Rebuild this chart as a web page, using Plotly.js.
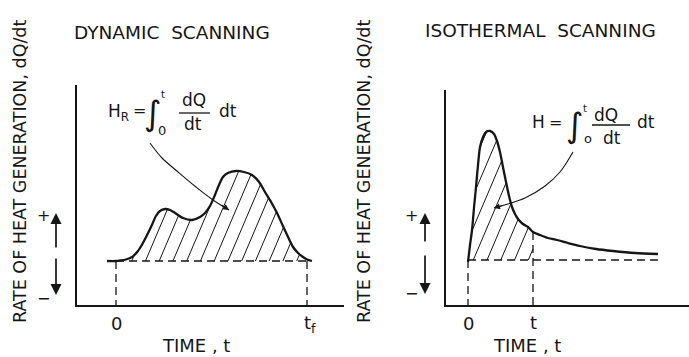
<!DOCTYPE html>
<html><head><meta charset="utf-8">
<script src="https://cdn.plot.ly/plotly-3.0.1.min.js"></script>
<style>body{margin:0;background:#fff}#chart{width:689px;height:357px}</style>
</head><body><div id="chart"></div>
<script>
// ---- Data ----
// Dynamic scanning: time (t_f = 10) and rate of heat generation above baseline
const dynT = [-0.47,0,0.21,0.52,0.84,1.15,1.41,1.68,1.88,2.09,2.30,2.57,2.83,3.09,3.51,3.98,4.40,4.66,4.92,5.18,5.39,5.60,5.86,6.28,6.70,7.12,7.49,7.80,8.12,8.43,8.74,9.01,9.27,9.53,9.79,10.0,10.26];
const dynQ = [0,0,0.05,0.15,0.4,1.0,1.8,2.8,3.6,4.5,5.0,5.2,5.1,4.8,4.3,4.1,4.4,4.8,5.5,6.6,7.6,8.4,8.8,9.0,8.9,8.6,7.9,6.9,5.9,4.8,3.5,2.4,1.4,0.8,0.4,0.15,0];
const dynTf = 10;
// Isothermal scanning: time (t = 1 at the marked time) and rate
const isoT = [0,0.031,0.062,0.092,0.123,0.154,0.185,0.231,0.277,0.338,0.400,0.446,0.492,0.538,0.585,0.631,0.677,0.723,0.769,0.846,0.923,1.0,1.108,1.231,1.369,1.538,1.723,1.969,2.231,2.569,2.923];
const isoQ = [-0.2,1.5,3.0,5.2,7.3,9.5,11.3,12.3,12.8,12.9,12.6,11.9,10.8,9.3,7.8,6.4,5.3,4.6,4.1,3.6,3.3,2.8,2.5,2.2,2.0,1.7,1.4,1.1,0.9,0.7,0.6];
const isoTcut = 1;
// leader lines from the formulas to the hatched areas
const dynLeaderT = [1.78,2.41,3.25,4.19,5.08,5.92];
const dynLeaderQ = [11.8,10.3,8.9,7.4,6.1,5.1];
const isoLeaderT = [1.615,1.415,1.185,0.877,0.615,0.40];
const isoLeaderQ = [10.8,8.8,7.4,6.2,5.6,5.2];
// text
const panelTitles = ['DYNAMIC  SCANNING','ISOTHERMAL  SCANNING'];
const yTitle = 'RATE OF HEAT GENERATION, dQ/dt';
const xTitle = 'TIME , t';

// ---- Layout geometry ----
const W = 689, H = 357;
const ax1 = {dom:[77/W,344/W], range:[-2.042,11.937]};
const ay1 = {dom:[(H-305)/H,(H-85)/H], range:[-4.4,17.6]};
const ax2 = {dom:[446/W,1], range:[-0.3385,3.4]};
const ay2 = {dom:[(H-305)/H,(H-90)/H], range:[-4.5,17.0]};
const INK = '#161616';

function toPx(v,a){return a.dom[0]*W + (v-a.range[0])/(a.range[1]-a.range[0])*(a.dom[1]-a.dom[0])*W;}
function toPy(v,a){return H - (a.dom[0]*H + (v-a.range[0])/(a.range[1]-a.range[0])*(a.dom[1]-a.dom[0])*H);}
function fromPx(p,a){return a.range[0] + (p/W - a.dom[0])/(a.dom[1]-a.dom[0])*(a.range[1]-a.range[0]);}
function fromPy(p,a){return a.range[0] + ((H-p)/H - a.dom[0])/(a.dom[1]-a.dom[0])*(a.range[1]-a.range[0]);}

// hatch lines (slanted /) clipped to polygon, computed in pixel space, returned in data space
function hatch(pt, pq, ax, ay, x0, step, tanA){
  const yb = toPy(0, ay);
  const X = pt.map(v=>toPx(v,ax)), Y = pq.map(v=>toPy(v,ay));
  const U = X.map((x,i)=> x - (yb - Y[i])/tanA);
  const n = X.length;
  const umin = Math.min(...U), umax = Math.max(...U);
  const out = {x:[], y:[]};
  let c = x0 + Math.ceil((umin - x0)/step)*step;
  for(; c <= umax; c += step){
    const ys = [];
    for(let i=0;i<n;i++){
      const j=(i+1)%n;
      const a=U[i]-c, b=U[j]-c;
      if((a<0 && b>=0) || (a>=0 && b<0)){
        const f = (c-U[i])/(U[j]-U[i]);
        ys.push(Y[i] + f*(Y[j]-Y[i]));
      }
    }
    ys.sort((p,q)=>q-p);
    for(let k=0;k+1<ys.length;k+=2){
      const ya=ys[k], yb2=ys[k+1];
      const xa=c+(yb-ya)/tanA, xb=c+(yb-yb2)/tanA;
      out.x.push(fromPx(xa,ax), fromPx(xb,ax), null);
      out.y.push(fromPy(ya,ay), fromPy(yb2,ay), null);
    }
  }
  return out;
}

// polygons
const cutIdx = isoT.indexOf(isoTcut);
const isoPolyT = isoT.slice(0,cutIdx+1).concat([isoTcut, 0]);
const isoPolyQ = isoQ.slice(0,cutIdx+1).concat([0,0]);
const h1 = hatch(dynT, dynQ, ax1, ay1, 131.7, 13.75, 2.35);
const h2 = hatch(isoPolyT, isoPolyQ, ax2, ay2, 473.3, 13.75, 2.35);

const dashStyle = {color: INK, width: 1.3, dash: '8px,5px'};
const traces = [
  // left
  {x:[0,dynTf], y:[0,0], xaxis:'x', yaxis:'y', mode:'lines', line:dashStyle},
  {x:[0,0,null,dynTf,dynTf], y:[0,ay1.range[0],null,0,ay1.range[0]], xaxis:'x', yaxis:'y', mode:'lines', line:dashStyle},
  {x:h1.x, y:h1.y, xaxis:'x', yaxis:'y', mode:'lines', line:{color:INK, width:1}},
  {x:dynT, y:dynQ, xaxis:'x', yaxis:'y', mode:'lines', line:{color:INK, width:2.3, shape:'spline', smoothing:0.8}},
  {x:dynLeaderT, y:dynLeaderQ, xaxis:'x', yaxis:'y', mode:'lines', line:{color:INK, width:1.1, shape:'spline'}},
  // right
  {x:[0,isoT[isoT.length-1]+0.03], y:[0,0], xaxis:'x2', yaxis:'y2', mode:'lines', line:dashStyle},
  {x:[0,0,null,isoTcut,isoTcut], y:[0,ay2.range[0],null,isoQ[cutIdx],ay2.range[0]], xaxis:'x2', yaxis:'y2', mode:'lines', line:dashStyle},
  {x:h2.x, y:h2.y, xaxis:'x2', yaxis:'y2', mode:'lines', line:{color:INK, width:1}},
  {x:isoT, y:isoQ, xaxis:'x2', yaxis:'y2', mode:'lines', line:{color:INK, width:2.3, shape:'spline', smoothing:0.8}},
  {x:isoLeaderT, y:isoLeaderQ, xaxis:'x2', yaxis:'y2', mode:'lines', line:{color:INK, width:1.1, shape:'spline'}}
];

const FONT = 'DejaVu Sans, Liberation Sans, sans-serif';
function A(text, x, y, size, extra){
  return Object.assign({text:text, xref:'paper', yref:'paper', x:x/W, y:1-y/H, showarrow:false,
    xanchor:'center', yanchor:'middle', font:{family:FONT, size:size, color:INK}}, extra||{});
}
function arrowV(x, yHead, len){
  return {xref:'paper', yref:'paper', x:x/W, y:1-yHead/H, ax:0, ay:len, text:'', showarrow:true,
    arrowhead:2, arrowsize:1.3, arrowwidth:1.7, arrowcolor:INK, standoff:0};
}
const nL = dynLeaderT.length, nR = isoLeaderT.length;
const annotations = [
  A(panelTitles[0], 172, 32, 18.5),
  A(panelTitles[1], 540, 30, 18.5),
  A(yTitle, 20, 172, 17.5, {textangle:-90}),
  A(yTitle, 364, 172, 17.5, {textangle:-90}),
  A(xTitle, 196, 345, 18),
  A(xTitle, 527, 345, 18),
  A('0', 116, 323, 18),
  A('t<sub>f</sub>', 310, 324, 18),
  A('0', 468, 323, 18),
  A('t', 533, 322, 18),
  A('+', 43, 215, 16), A('\u2212', 43, 298, 16),
  A('+', 411, 215, 16), A('\u2212', 411, 293, 16),
  arrowV(56, 213, 36), arrowV(56, 295, -38),
  arrowV(425, 213, 30), arrowV(425, 294, -40),
  // left formula
  A('H<sub>R</sub>', 106, 112, 17, {xanchor:'left'}),
  A('=', 139, 110, 16),
  A('\u222B', 153, 113, 34),
  A('t', 163, 95, 10),
  A('0', 162, 130, 13),
  A('dQ', 194, 100, 17),
  A('dt', 193, 124, 17),
  A('dt', 228, 111, 17),
  // right formula
  A('H', 538, 122, 17),
  A('=', 555, 122, 16),
  A('\u222B', 575, 125, 34),
  A('t', 585, 108, 10),
  A('o', 588, 139, 13),
  A('dQ', 606, 115, 17),
  A('dt', 612, 138, 17),
  A('dt', 646, 122, 17),
  // leader arrowheads
  {xref:'x', yref:'y', x:dynLeaderT[nL-1], y:dynLeaderQ[nL-1], ax:-9, ay:-6, text:'', showarrow:true, arrowhead:2, arrowsize:1, arrowwidth:1.2, arrowcolor:INK, standoff:0},
  {xref:'x2', yref:'y2', x:isoLeaderT[nR-1], y:isoLeaderQ[nR-1], ax:10, ay:-3, text:'', showarrow:true, arrowhead:2, arrowsize:1, arrowwidth:1.2, arrowcolor:INK, standoff:0}
];
const shapes = [
  {type:'line', xref:'paper', yref:'paper', x0:179/W, x1:210/W, y0:1-113/H, y1:1-113/H, line:{color:INK, width:1.3}},
  {type:'line', xref:'paper', yref:'paper', x0:592/W, x1:630/W, y0:1-125/H, y1:1-125/H, line:{color:INK, width:1.3}}
];
function axis(a, anchor){
  return {domain:a.dom, range:a.range, anchor:anchor, showline:true, linewidth:2, linecolor:INK,
    showgrid:false, zeroline:false, showticklabels:false, ticks:'', fixedrange:true};
}
const layout = {
  width:W, height:H, margin:{l:0,r:0,t:0,b:0}, paper_bgcolor:'#fff', plot_bgcolor:'#fff',
  showlegend:false, font:{family:FONT, color:INK},
  xaxis:axis(ax1,'y'), yaxis:axis(ay1,'x'),
  xaxis2:axis(ax2,'y2'), yaxis2:axis(ay2,'x2'),
  annotations:annotations, shapes:shapes
};
Plotly.newPlot('chart', traces, layout, {staticPlot:true, displayModeBar:false});
</script></body></html>
